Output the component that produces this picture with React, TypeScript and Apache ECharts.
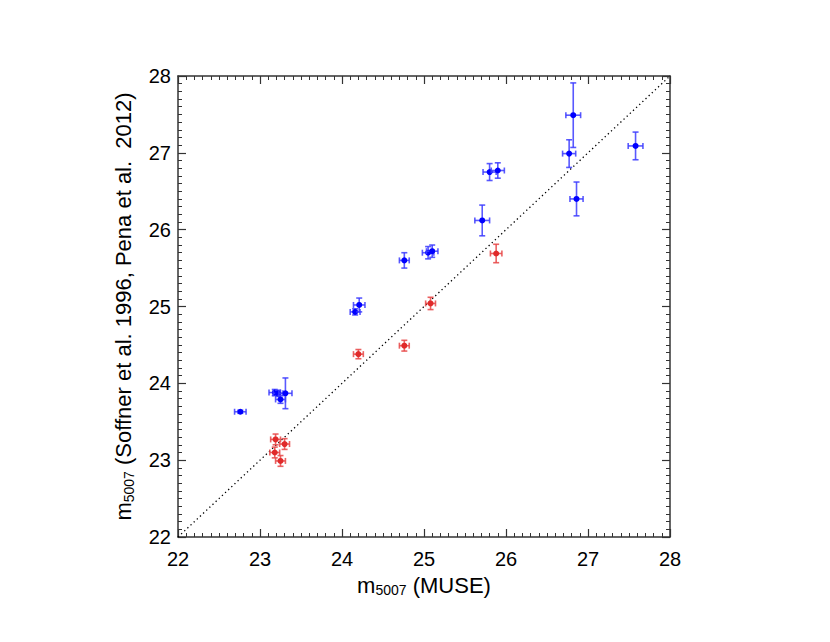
import React, { useEffect, useRef } from "react";
import * as echarts from "echarts";

// Blue points: m5007 (MUSE), m5007 (literature), x error, y error
const blueX = [22.76, 23.18, 23.22, 23.25, 23.31, 24.16, 24.21, 24.76, 25.05, 25.1, 25.71, 25.8, 25.9, 26.77, 26.82, 26.86, 27.58];
const blueY = [23.63, 23.88, 23.87, 23.79, 23.87, 24.93, 25.02, 25.6, 25.7, 25.72, 26.12, 26.75, 26.77, 26.99, 27.49, 26.4, 27.09];
const blueXErr = [0.07, 0.07, 0.06, 0.06, 0.08, 0.06, 0.07, 0.06, 0.07, 0.07, 0.09, 0.08, 0.08, 0.08, 0.09, 0.08, 0.09];
const blueYErr = [0.02, 0.04, 0.04, 0.05, 0.2, 0.04, 0.09, 0.1, 0.08, 0.08, 0.2, 0.11, 0.1, 0.18, 0.42, 0.22, 0.18];

// Red points
const redX = [23.19, 23.3, 23.18, 23.25, 24.2, 24.76, 25.08, 25.88];
const redY = [23.27, 23.21, 23.1, 22.99, 24.38, 24.49, 25.04, 25.69];
const redXErr = [0.06, 0.06, 0.06, 0.06, 0.06, 0.06, 0.06, 0.07];
const redYErr = [0.07, 0.07, 0.07, 0.07, 0.06, 0.07, 0.08, 0.12];

// One-to-one reference line
const oneToOne = [22, 28];

const axisMin = 22;
const axisMax = 28;

const FONT = '"Liberation Sans", Arial, Helvetica, sans-serif';

function toData(xs: number[], ys: number[], xe: number[], ye: number[]) {
  return xs.map((x, i) => [x, ys[i], xe[i], ye[i]]);
}

function makeRender(barColor: string, dotColor: string) {
  return (params: any, api: any) => {
    const x = api.value(0);
    const y = api.value(1);
    const xe = api.value(2);
    const ye = api.value(3);
    const c = api.coord([x, y]);
    const l = api.coord([x - xe, y]);
    const r = api.coord([x + xe, y]);
    const t = api.coord([x, y + ye]);
    const b = api.coord([x, y - ye]);
    const cap = 3;
    const st = { stroke: barColor, lineWidth: 1.6 };
    return {
      type: "group",
      children: [
        { type: "line", shape: { x1: l[0], y1: l[1], x2: r[0], y2: r[1] }, style: st },
        { type: "line", shape: { x1: l[0], y1: l[1] - cap, x2: l[0], y2: l[1] + cap }, style: st },
        { type: "line", shape: { x1: r[0], y1: r[1] - cap, x2: r[0], y2: r[1] + cap }, style: st },
        { type: "line", shape: { x1: t[0], y1: t[1], x2: b[0], y2: b[1] }, style: st },
        { type: "line", shape: { x1: t[0] - cap, y1: t[1], x2: t[0] + cap, y2: t[1] }, style: st },
        { type: "line", shape: { x1: b[0] - cap, y1: b[1], x2: b[0] + cap, y2: b[1] }, style: st },
        { type: "circle", shape: { cx: c[0], cy: c[1], r: 3 }, style: { fill: dotColor } },
      ],
    };
  };
}

const axisCommon = {
  min: axisMin,
  max: axisMax,
  interval: 1,
  axisLine: { show: true, onZero: false, lineStyle: { color: "#333", width: 1.5 } },
  axisTick: { show: true, inside: true, length: 8, lineStyle: { color: "#333", width: 1.2 } },
  minorTick: { show: true, splitNumber: 10, length: 4, lineStyle: { color: "#333", width: 1 } },
  splitLine: { show: false },
  minorSplitLine: { show: false },
};

const rich = {
  m: { fontSize: 22, fontFamily: FONT, color: "#000", lineHeight: 28, verticalAlign: "middle" },
  s: { fontSize: 14, fontFamily: FONT, color: "#000", lineHeight: 28, verticalAlign: "bottom", padding: [0, 0, 2, 0] },
};

export default function App() {
  const ref = useRef<HTMLDivElement>(null);
  useEffect(() => {
    if (!ref.current) return;
    const chart = echarts.init(ref.current, null, { renderer: "svg" });
    chart.setOption({
      animation: false,
      backgroundColor: "#fff",
      grid: { left: 178, right: 160, top: 76, bottom: 105 },
      xAxis: [
        {
          ...axisCommon,
          type: "value",
          position: "bottom",
          name: "{m|m}{s|5007}{m| (MUSE)}",
          nameLocation: "middle",
          nameGap: 34,
          nameTextStyle: { rich },
          axisLabel: { show: true, fontSize: 20, color: "#000", fontFamily: FONT, margin: 12 },
        },
        {
          ...axisCommon,
          type: "value",
          position: "top",
          axisLabel: { show: false },
        },
      ],
      yAxis: [
        {
          ...axisCommon,
          type: "value",
          position: "left",
          name: "{m|m}{s|5007}{m| (Soffner et al. 1996, Pena et al.  2012)}",
          nameLocation: "middle",
          nameGap: 36,
          nameRotate: 90,
          nameTextStyle: { rich },
          axisLabel: { show: true, fontSize: 20, color: "#000", fontFamily: FONT, margin: 7 },
        },
        {
          ...axisCommon,
          type: "value",
          position: "right",
          axisLabel: { show: false },
        },
      ],
      series: [
        {
          type: "line",
          data: [
            [oneToOne[0], oneToOne[0]],
            [oneToOne[1], oneToOne[1]],
          ],
          symbol: "none",
          lineStyle: { color: "#000", width: 1.3, type: [1.3, 3] },
          silent: true,
          z: 1,
        },
        {
          type: "custom",
          renderItem: makeRender("rgba(60,60,255,0.85)", "#0000ff"),
          data: toData(blueX, blueY, blueXErr, blueYErr),
          encode: { x: 0, y: 1 },
          z: 3,
        },
        {
          type: "custom",
          renderItem: makeRender("rgba(232,70,70,0.85)", "#e02a2a"),
          data: toData(redX, redY, redXErr, redYErr),
          encode: { x: 0, y: 1 },
          z: 3,
        },
      ],
    });
    return () => chart.dispose();
  }, []);
  return (
    <div
      ref={ref}
      style={{ position: "fixed", left: 0, top: 0, width: 830, height: 642, background: "#fff" }}
    />
  );
}
